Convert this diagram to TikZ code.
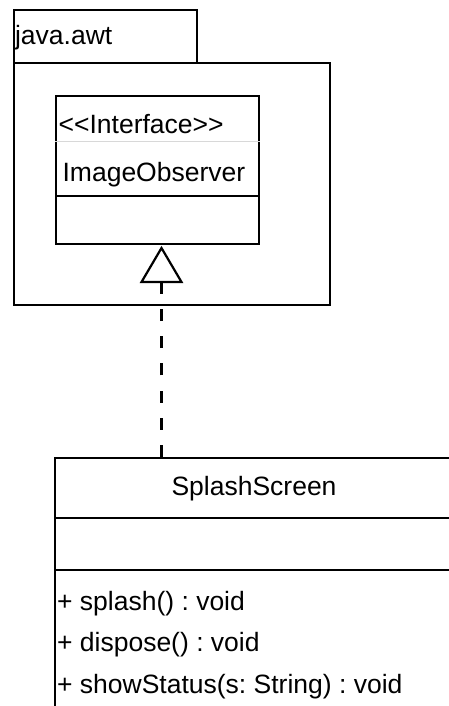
\documentclass[tikz,border=0pt]{standalone}
\usepackage{fontspec}
\usepackage{tikz}
\usetikzlibrary{calc}
\newfontfamily\umlfont{Liberation Sans}
\definecolor{sep}{HTML}{d8d8d8}

\begin{document}
\frenchspacing
\begin{tikzpicture}[x=1pt, y=-1pt, line width=2.2pt,
            box/.style={draw, rectangle, anchor=north west, inner sep=0pt},
            txt/.style={anchor=base west, inner sep=0pt, font=\umlfont\fontsize{26.5}{30}\selectfont}]
            \useasboundingbox (0,0) rectangle (448,706);
            % package java.awt
            \node[box, minimum width=183, minimum height=52.4] (tab) at (12.7,9.3) {};
            \node[box, minimum width=316.3, minimum height=242.3] (pkg) at (12.7,61.7) {};
            \node[txt] (pkgname) at (14,45) {java.awt};
            % interface ImageObserver
            \node[box, minimum width=203, minimum height=148] (iface) at (55,95) {};
            \draw[sep, line width=0.8pt] (iface.west |- 0,141.7) -- (iface.east |- 0,141.7);
            \draw (iface.west |- 0,196) -- (iface.east |- 0,196);
            \node[txt] (stereo) at (57.5,133) {<<Interface>>};
            \node[txt] (ifname) at (61.5,181) {ImageObserver};
            % class SplashScreen
            \node[box, minimum width=400, minimum height=260] (splash) at (54,457) {};
            \draw (splash.west |- 0,518) -- (splash.east |- 0,518);
            \draw (splash.west |- 0,570) -- (splash.east |- 0,570);
            \node[txt, anchor=base] (clname) at (254,495) {SplashScreen};
            \node[txt] (m1) at (56,610) {+ splash() : void};
            \node[txt] (m2) at (56,651) {+ dispose() : void};
            \node[txt] (m3) at (56,693) {+ showStatus(s: String) : void};
            % realization
            \coordinate (tip) at (161.5,248);
            \coordinate (base) at (161.5,282);
            \draw[dash pattern=on 12pt off 15.2pt] (splash.north -| tip) -- (base);
            \draw[line join=miter] (tip) -- ($(base)+(-20,0)$) -- ($(base)+(20,0)$) -- cycle;
        \end{tikzpicture}
\end{document}
